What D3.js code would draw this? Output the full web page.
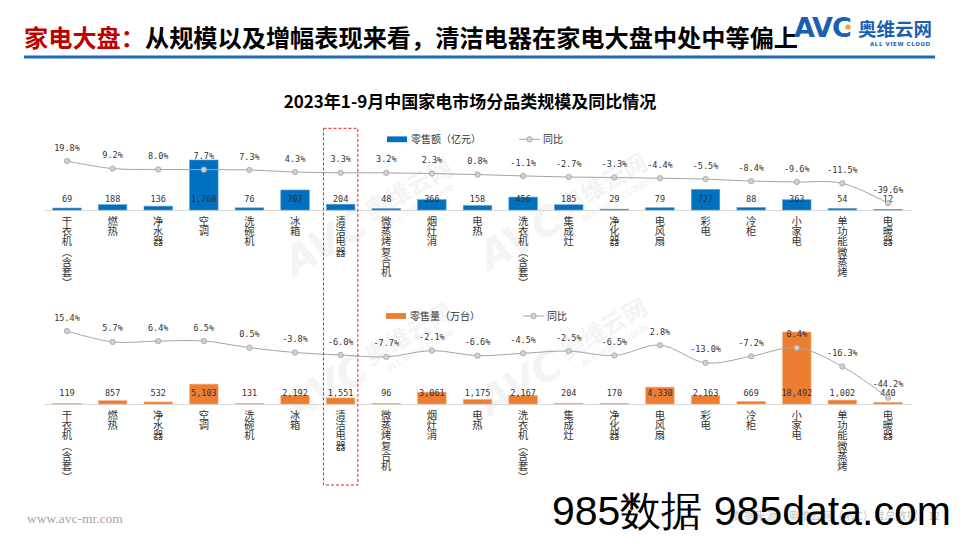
<!DOCTYPE html>
<html><head><meta charset="utf-8">
<script src="https://cdn.jsdelivr.net/npm/d3@7"></script>
<style>body{margin:0;background:#fff}svg{display:block}</style>
</head><body><svg id="c" width="960" height="540"></svg>
<script>
const categories = ["干衣机（含套）","燃热","净水器","空调","洗碗机","冰箱","清洁电器","微蒸烤复合机","烟灶消","电热","洗衣机（含套）","集成灶","净化器","电风扇","彩电","冷柜","小家电","单功能微蒸烤","电暖器"];
const salesValue = [69,188,136,1768,76,707,204,48,366,158,456,185,29,79,727,88,363,54,12];
const salesYoY = [19.8,9.2,8.0,7.7,7.3,4.3,3.3,3.2,2.3,0.8,-1.1,-2.7,-3.3,-4.4,-5.5,-8.4,-9.6,-11.5,-39.6];
const volumeValue = [119,857,532,5103,131,2192,1551,96,3061,1175,2167,204,170,4330,2163,669,18492,1002,440];
const volumeYoY = [15.4,5.7,6.4,6.5,0.5,-3.8,-6.0,-7.7,-2.1,-6.6,-4.5,-2.5,-6.5,2.8,-13.0,-7.2,0.4,-16.3,-44.2];
const seriesNames = ["零售额（亿元）","零售量（万台）","同比"];
const highlight = "清洁电器";
const titleRed = "家电大盘：";
const titleBlack = "从规模以及增幅表现来看，清洁电器在家电大盘中处中等偏上";
const chartTitle = "2023年1-9月中国家电市场分品类规模及同比情况";

const svg = d3.select("#c");
const CJK = "'Noto Sans CJK SC','Noto Sans',sans-serif";
const MONO = "'DejaVu Sans Mono',monospace";
const TXT = "#333";

// ---- faint watermarks
function watermark(cx, cy){
  const g = svg.append("g").attr("transform",`translate(${cx},${cy}) rotate(-30)`).attr("fill","#f4f4f4");
  g.append("text").attr("x",-30).attr("y",14).attr("text-anchor","end").attr("font-family","'DejaVu Sans',sans-serif").attr("font-weight","bold").attr("font-style","italic").attr("font-size",40).text("AVC");
  g.append("text").attr("x",-24).attr("y",4).attr("font-family",CJK).attr("font-weight","bold").attr("font-size",24).text("奥维云网");
  g.append("text").attr("x",-12).attr("y",18).attr("font-family","'DejaVu Sans',sans-serif").attr("font-weight","bold").attr("font-size",8).text("ALL VIEW CLOUD");
}
[[390,205],[585,200],[390,350],[585,345]].forEach(p=>watermark(p[0],p[1]));

// ---- header
svg.append("text").attr("x",24).attr("y",46.5).attr("font-family",CJK).attr("font-weight","bold").attr("font-size",24.2)
  .call(t=>{t.append("tspan").attr("fill","#c00000").text(titleRed);t.append("tspan").attr("fill","#000").text(titleBlack);});
svg.append("rect").attr("x",24).attr("y",55.5).attr("width",911).attr("height",3).attr("fill","#1f68b8");
// logo
svg.append("text").attr("x",794).attr("y",37).attr("font-family","'DejaVu Sans',sans-serif").attr("font-weight","bold").attr("font-size",27).attr("letter-spacing",-1).attr("fill","#1a5fb4").text("AVC");
svg.append("circle").attr("cx",848).attr("cy",27).attr("r",2.6).attr("fill","#f2a024");
svg.append("text").attr("x",858).attr("y",35.5).attr("font-family",CJK).attr("font-weight","bold").attr("font-size",18.5).attr("fill","#1a5fb4").text("奥维云网");
svg.append("text").attr("x",870).attr("y",45.5).attr("font-family","'DejaVu Sans',sans-serif").attr("font-weight","bold").attr("font-size",5.5).attr("letter-spacing",0.6).attr("fill","#1a5fb4").text("ALL VIEW CLOUD");

svg.append("text").attr("x",470).attr("y",108).attr("text-anchor","middle").attr("font-family",CJK).attr("font-weight","bold").attr("font-size",17).attr("fill","#000").text(chartTitle);

// ---- scales
const x = d3.scaleBand().domain(categories).range([44.2,910.8]).paddingInner(0.375).paddingOuter(0.1875);
const cx = c => x(c) + x.bandwidth()/2;

const panels = [
  {bars:salesValue, yoy:salesYoY, color:"#0070c0", stroke:"#5b9bd5", name:seriesNames[0],
   yBar:d3.scaleLinear().domain([0,2000]).range([210,153.44]),
   yLine:d3.scaleLinear().domain([-50,20]).range([210.7,160.9]),
   legendY:139.3, legendX:387, legend2X:519},
  {bars:volumeValue, yoy:volumeYoY, color:"#ed7d31", stroke:"#f4b183", name:seriesNames[1],
   yBar:d3.scaleLinear().domain([0,20000]).range([404,326.1]),
   yLine:d3.scaleLinear().domain([-50,20]).range([404.2,325.9]),
   legendY:316, legendX:386, legend2X:523}
];

const fmt = d3.format(",");
panels.forEach(p=>{
  const base = p.yBar(0);
  const g = svg.append("g");
  g.append("g").attr("transform",`translate(0,${base})`)
    .call(d3.axisBottom(x).tickSize(0).tickFormat(""))
    .call(a=>a.select(".domain").attr("stroke","#d9d9d9"));
  g.selectAll(".bar").data(categories).join("rect")
    .attr("x",d=>x(d)).attr("width",x.bandwidth())
    .attr("y",(d,i)=>p.yBar(p.bars[i])).attr("height",(d,i)=>base-p.yBar(p.bars[i]))
    .attr("fill",p.color).attr("stroke",p.stroke).attr("stroke-width",0.6);
  g.selectAll(".bl").data(categories).join("text")
    .attr("x",d=>cx(d)).attr("y",base-7.6).attr("text-anchor","middle")
    .attr("font-family",MONO).attr("font-size",8.5).attr("fill",TXT)
    .text((d,i)=>fmt(p.bars[i]));
  const line = d3.line().x((d,i)=>cx(categories[i])).y(d=>p.yLine(d)).curve(d3.curveCatmullRom.alpha(0.5));
  g.append("path").attr("d",line(p.yoy)).attr("fill","none").attr("stroke","#a5a5a5").attr("stroke-width",1);
  g.selectAll(".pt").data(p.yoy).join("circle")
    .attr("cx",(d,i)=>cx(categories[i])).attr("cy",d=>p.yLine(d)).attr("r",2.7)
    .attr("fill","#d0d0d0").attr("stroke","#a5a5a5").attr("stroke-width",0.8);
  g.selectAll(".ll").data(p.yoy).join("text")
    .attr("x",(d,i)=>cx(categories[i])).attr("y",d=>p.yLine(d)-10.4).attr("text-anchor","middle")
    .attr("font-family",MONO).attr("font-size",8.5).attr("fill",TXT)
    .text(d=>d.toFixed(1)+"%");
  g.selectAll(".cl").data(categories).join("text")
    .attr("x",d=>cx(d)).attr("y",base+5.8)
    .style("writing-mode","vertical-rl")
    .attr("font-family",CJK).attr("font-size",10.3).attr("fill",TXT)
    .text(d=>d);
  g.append("rect").attr("x",p.legendX).attr("y",p.legendY-2.9).attr("width",20).attr("height",5.8).attr("fill",p.color);
  g.append("text").attr("x",p.legendX+24).attr("y",p.legendY+3.5).attr("font-family",CJK).attr("font-size",10).attr("fill",TXT).text(p.name);
  g.append("line").attr("x1",p.legend2X).attr("x2",p.legend2X+21).attr("y1",p.legendY).attr("y2",p.legendY).attr("stroke","#a5a5a5");
  g.append("circle").attr("cx",p.legend2X+10.5).attr("cy",p.legendY).attr("r",2.7).attr("fill","#d0d0d0").attr("stroke","#a5a5a5").attr("stroke-width",0.8);
  g.append("text").attr("x",p.legend2X+24).attr("y",p.legendY+3.5).attr("font-family",CJK).attr("font-size",10).attr("fill",TXT).text(seriesNames[2]);
});

svg.append("rect").attr("x",cx(highlight)-17.2).attr("y",128.3).attr("width",34.4).attr("height",356.7)
  .attr("fill","none").attr("stroke","#e02020").attr("stroke-width",1).attr("stroke-dasharray","3,2");

// ---- footer
svg.append("text").attr("x",27).attr("y",523).attr("font-family","'Liberation Serif','DejaVu Serif',serif").attr("font-size",13.5).attr("fill","#a6a6a6").text("www.avc-mr.com");
svg.append("text").attr("x",733).attr("y",520).attr("font-family",CJK).attr("font-size",11).attr("fill","#c8c8c8").text("数据来源：奥维云网（AVC）推总数据");
svg.append("text").attr("x",928).attr("y",520).attr("font-family",CJK).attr("font-size",11).attr("fill","#c8c8c8").text("12");
svg.append("text").attr("x",552).attr("y",525).attr("font-family","'Liberation Sans',Arial,sans-serif").attr("font-size",41).attr("fill","#000").text("985数据 985data.com");
</script></body></html>
